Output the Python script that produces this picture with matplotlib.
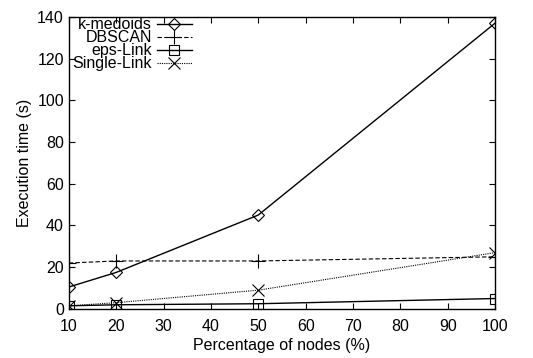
import matplotlib
matplotlib.use("Agg")
import matplotlib.pyplot as plt
from matplotlib.lines import Line2D

plt.rcParams['font.family'] = ['Liberation Sans', 'DejaVu Sans']

x = [10, 20, 50, 100]
kmedoids = [10.5, 17.5, 45, 137]
dbscan = [22, 23, 23, 25]
epslink = [1.5, 2, 2.5, 5]
singlelink = [1.5, 3, 9, 27]

xticks = [10, 20, 30, 40, 50, 60, 70, 80, 90, 100]
yticks = [0, 20, 40, 60, 80, 100, 120, 140]

fig = plt.figure(figsize=(5.33, 3.58), dpi=100)
ax = fig.add_axes([0.129, 0.137, 0.800, 0.816])

styles = [
    dict(color='black', lw=1, marker='D', ms=6, mfc='none', mew=0.8, label='k-medoids'),
    dict(color='black', lw=0.8, ls=(0, (4, 2)), marker='+', ms=10, mew=0.8, label='DBSCAN'),
    dict(color='black', lw=1, marker='s', ms=7.5, mfc='none', mew=0.8, label='eps-Link'),
    dict(color='black', lw=0.8, ls=(0, (1, 1)), marker='x', ms=9, mew=0.8, label='Single-Link'),
]
series = [kmedoids, dbscan, epslink, singlelink]
for s, st in zip(series, styles):
    ax.plot(x, s, **st)

ax.set_xlim(10, 100)
ax.set_ylim(0, 140)
ax.set_xticks(xticks)
ax.set_yticks(yticks)
ax.tick_params(direction='in', top=True, right=True, labelsize=11.5, length=4)
ax.tick_params(axis='x', pad=7)
ax.set_xlabel('Percentage of nodes (%)', fontsize=11.5, labelpad=3)
ax.set_ylabel('Execution time (s)', fontsize=11.5)
for sp in ax.spines.values():
    sp.set_linewidth(1)

# gnuplot-style legend: right-aligned labels, samples to the right
x0, x1, y0, y1 = 69, 495, 309, 17
def ax_fx(px):
    return (px - x0) / (x1 - x0)
def ax_fy(py):
    return (y0 - py) / (y0 - y1)
rows = [24, 37, 50, 63]
for py, st in zip(rows, styles):
    ax.text(ax_fx(152), ax_fy(py + 1), st['label'], transform=ax.transAxes, ha='right', va='center', fontsize=11.5)
    kw = {k: v for k, v in st.items() if k != 'label'}
    ln = Line2D([ax_fx(157), ax_fx(192)], [ax_fy(py)] * 2, transform=ax.transAxes, markevery=[], **kw)
    ax.add_line(ln)
    mk = Line2D([ax_fx(174.5)], [ax_fy(py)], transform=ax.transAxes, ls='none',
                **{k: v for k, v in kw.items() if k not in ('ls', 'lw')})
    ax.add_line(mk)

fig.savefig('out.png', dpi=100)
